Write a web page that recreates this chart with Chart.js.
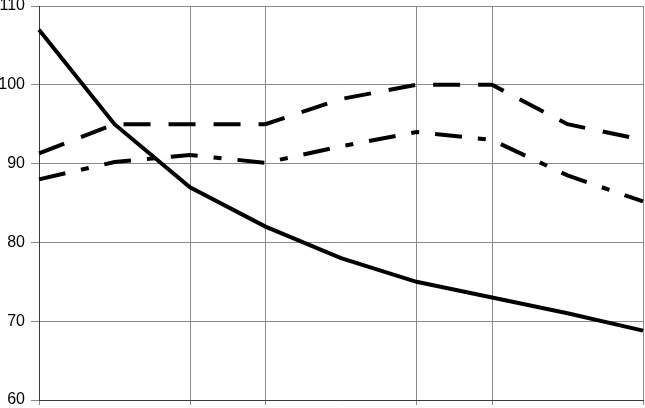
<!DOCTYPE html>
<html>
<head>
<meta charset="utf-8">
<script src="https://cdn.jsdelivr.net/npm/chart.js@4/dist/chart.umd.min.js"></script>
<style>
  html, body { margin: 0; padding: 0; background: #fff; }
  #wrap { position: relative; width: 645px; height: 408px; }
</style>
</head>
<body>
<div id="wrap"><canvas id="chart"></canvas></div>
<script>
// categories (no labels shown on the x axis in the picture)
const categories = ['1', '2', '3', '4', '5', '6', '7', '8', '9'];
// categories that carry a vertical gridline
const gridCategories = [0, 2, 3, 5, 6, 8];

// series values
const solidSeries   = [107, 95, 87, 82, 78, 75, 73, 71, 68.8];
const dashedSeries  = [91.3, 95, 95, 95, 98.2, 100, 100, 95, 93];
const dashDotSeries = [88, 90.2, 91.1, 90.1, 92.2, 94, 93, 88.5, 85.2];

const yTicks = [60, 70, 80, 90, 100, 110];

const GRID = '#8a8a8a';
const AXIS = '#3a3a3a';

new Chart(document.getElementById('chart').getContext('2d'), {
  type: 'line',
  data: {
    labels: categories,
    datasets: [
      { label: 'A', data: solidSeries, borderColor: '#000', borderWidth: 4, pointRadius: 0, tension: 0 },
      { label: 'B', data: dashedSeries, borderColor: '#000', borderWidth: 4, pointRadius: 0, tension: 0,
        borderDash: [27, 18] },
      { label: 'C', data: dashDotSeries, borderColor: '#000', borderWidth: 4, pointRadius: 0, tension: 0,
        borderDash: [27, 16, 8, 16] }
    ]
  },
  options: {
    animation: false,
    responsive: true,
    maintainAspectRatio: false,
    layout: { autoPadding: false, padding: { top: 0, right: 2, bottom: 3, left: 0 } },
    plugins: { legend: { display: false }, tooltip: { enabled: false } },
    scales: {
      x: {
        type: 'category',
        offset: false,
        ticks: { display: false },
        grid: {
          color: ctx => gridCategories.includes(ctx.index) ? GRID : 'rgba(0,0,0,0)',
          tickColor: ctx => gridCategories.includes(ctx.index) ? GRID : 'rgba(0,0,0,0)',
          tickLength: 5,
          lineWidth: 1
        },
        border: { color: AXIS, width: 1 }
      },
      y: {
        min: 60,
        max: 110,
        afterBuildTicks: axis => { axis.ticks = yTicks.map(v => ({ value: v })); },
        afterFit: axis => { axis.width = 39; },
        ticks: {
          color: '#000',
          padding: 6,
          font: { family: 'Liberation Sans, Arial, sans-serif', size: 16, lineHeight: 0 }
        },
        grid: { color: GRID, tickColor: GRID, tickLength: 8, lineWidth: 1 },
        border: { color: AXIS, width: 1 }
      }
    }
  }
});
</script>
</body>
</html>
